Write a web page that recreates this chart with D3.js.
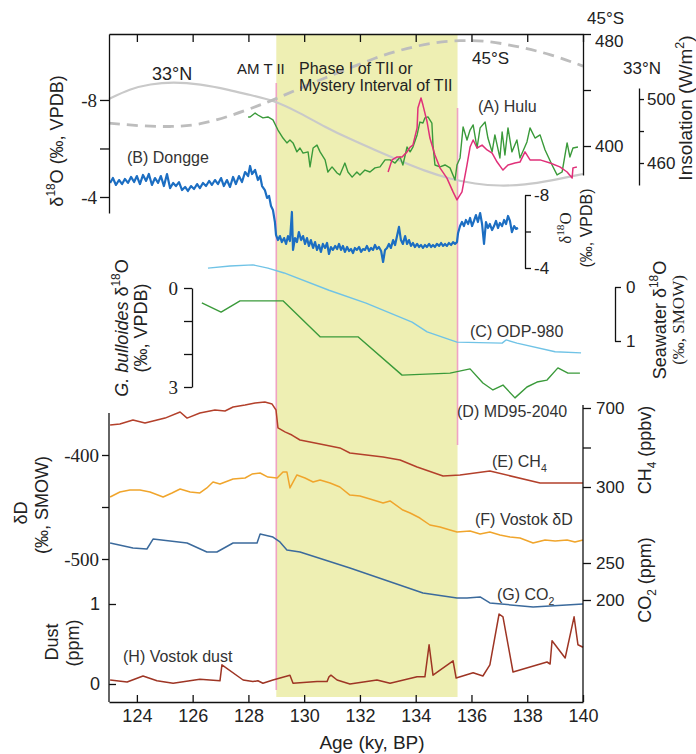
<!DOCTYPE html>
<html>
<head>
<meta charset="utf-8">
<script src="https://cdn.jsdelivr.net/npm/d3@7"></script>
<style>
  body { margin: 0; background: #fff; }
  svg { display: block; }
</style>
</head>
<body>
<svg></svg>
<script>
// ---- data (age in ky BP, value in the units of each record) ----
const ageTicks = [124, 126, 128, 130, 132, 134, 136, 138, 140];
const shadeAges = [129, 135.5];

// insolation, W/m2
const insol33N = [[123,500.0],[123.75,506.3],[124.47,509.4],[125.30,510.6],[126.26,509.4],[127.34,505.6],
  [128.06,502.5],[128.88,499.4],[129.85,491.3],[130.75,482.5],[131.64,475.0],[132.54,468.1],[133.44,461.3],
  [134.33,455.0],[135.23,450.0],[136.13,446.9],[137.02,445.6],[137.92,446.3],[138.82,448.8],[140,453.1]];
const insol45S = [[123,416.4],[124.11,414.3],[125.19,413.6],[126.26,415.0],[127.45,422.1],[128.42,429.3],
  [128.99,433.6],[129.85,441.4],[130.75,448.6],[131.64,455.7],[132.54,462.9],[133.44,468.6],[134.51,473.6],
  [135.59,475.7],[136.66,475.0],[137.74,470.7],[138.82,465.7],[140,457.1]];

// (A) Hulu d18O, permil VPDB
const hulu = [[127.99,-7.30],[128.06,-7.30],[128.24,-7.46],[128.34,-7.38],[128.52,-7.26],[128.70,-7.30],
  [128.88,-7.18],[129.06,-6.76],[129.24,-6.43],[129.38,-6.23],[129.49,-6.35],[129.60,-6.23],[129.74,-5.86],
  [129.85,-6.02],[129.96,-5.81],[130.14,-5.86],[130.21,-5.24],[130.32,-6.02],[130.46,-6.14],[130.57,-5.86],
  [130.75,-5.53],[130.85,-5.03],[131.00,-5.24],[131.18,-4.99],[131.28,-4.91],[131.46,-5.40],[131.57,-5.03],
  [131.72,-4.82],[131.89,-5.03],[132.00,-4.91],[132.18,-5.11],[132.36,-5.03],[132.54,-5.20],[132.72,-5.24],
  [132.90,-5.53],[133.08,-5.53],[133.26,-5.40],[133.44,-5.65],[133.54,-5.32],[133.69,-6.06],[133.80,-5.86],
  [133.90,-6.06],[134.05,-6.56],[134.15,-7.09],[134.26,-7.05],[134.33,-7.26],[134.44,-7.30],[134.58,-7.05],
  [134.62,-6.14],[134.69,-5.32],[134.87,-5.24],[135.05,-5.32],[135.23,-5.20],[135.41,-4.70],[135.48,-5.32],
  [135.59,-5.61],[135.70,-6.89],[135.84,-6.35],[135.95,-6.76],[136.06,-6.97],[136.20,-6.02],[136.31,-6.85],
  [136.49,-7.09],[136.59,-6.43],[136.74,-5.86],[136.84,-6.56],[137.02,-5.61],[137.10,-6.68],[137.20,-5.73],
  [137.31,-6.85],[137.45,-5.86],[137.63,-6.35],[137.74,-5.61],[137.99,-6.27],[138.10,-6.85],[138.28,-6.43],
  [138.46,-6.56],[138.64,-5.94],[138.89,-5.32],[139.07,-4.91],[139.25,-5.03],[139.43,-6.23],[139.53,-5.65],
  [139.64,-6.02],[139.82,-6.06]];
const hulu2 = [[133.01,-5.03],[133.15,-5.53],[133.33,-5.65],[133.51,-5.65],[133.69,-5.86],[133.80,-6.06],
  [133.90,-6.14],[134.05,-6.85],[134.08,-7.67],[134.19,-8.08],[134.26,-7.79],[134.41,-7.09],[134.51,-6.43],
  [134.69,-5.73],[134.87,-5.20],[135.12,-4.78],[135.34,-4.21],[135.48,-3.88],[135.66,-4.21],[135.84,-5.32],
  [135.95,-6.06],[136.06,-6.35],[136.20,-6.02],[136.38,-6.14],[136.56,-5.94],[136.74,-5.81],[136.92,-5.44],
  [137.13,-5.11],[137.31,-5.32],[137.56,-5.40],[137.74,-5.44],[137.92,-5.86],[138.10,-5.53],[138.46,-5.53],
  [138.82,-5.40],[139.17,-5.24],[139.43,-5.03],[139.61,-4.78],[139.64,-5.20],[139.78,-5.24]];

// (B) Dongge d18O, permil VPDB
const dongge = [[123.04,-8.66],[123.14,-8.93],[123.25,-8.55],[123.36,-8.82],[123.47,-8.60],[123.57,-8.88],
  [123.68,-8.66],[123.79,-8.99],[123.90,-8.71],[124.00,-9.04],[124.11,-8.60],[124.22,-9.10],[124.33,-8.77],
  [124.43,-9.15],[124.54,-8.55],[124.65,-8.93],[124.76,-8.66],[124.86,-9.04],[124.97,-8.49],[125.08,-9.15],
  [125.19,-8.38],[125.30,-8.66],[125.40,-8.49],[125.51,-8.71],[125.62,-8.27],[125.73,-8.44],[125.83,-8.22],
  [125.94,-8.49],[126.05,-8.33],[126.16,-8.60],[126.26,-8.38],[126.37,-8.66],[126.48,-8.49],[126.59,-8.77],
  [126.69,-8.55],[126.80,-8.82],[126.91,-8.60],[127.02,-8.93],[127.12,-8.49],[127.23,-8.82],[127.34,-8.44],
  [127.45,-8.99],[127.55,-8.60],[127.66,-9.04],[127.77,-8.71],[127.88,-9.26],[127.99,-9.04],[128.06,-9.59],
  [128.13,-9.15],[128.24,-9.37],[128.34,-8.82],[128.42,-9.04],[128.49,-8.49],[128.59,-8.27],[128.67,-7.84],
  [128.74,-7.95],[128.81,-7.40],[128.88,-7.18],[128.95,-6.52],[128.99,-5.81],[129.06,-5.53],[129.13,-5.75],
  [129.20,-5.42],[129.28,-5.64],[129.35,-5.32],[129.42,-5.75],[129.49,-5.48],[129.56,-7.07],[129.60,-4.99],
  [129.67,-5.64],[129.74,-5.42],[129.81,-5.97],[129.89,-5.53],[129.96,-5.75],[130.03,-5.32],[130.10,-5.64],
  [130.17,-5.21],[130.24,-5.53],[130.32,-5.10],[130.39,-5.42],[130.46,-4.99],[130.53,-5.26],[130.60,-4.88],
  [130.67,-5.32],[130.75,-5.10],[130.82,-5.37],[130.89,-4.77],[130.96,-5.15],[131.03,-4.99],[131.11,-5.21],
  [131.18,-5.04],[131.25,-5.32],[131.32,-4.99],[131.39,-5.21],[131.46,-4.88],[131.54,-5.15],[131.61,-4.93],
  [131.68,-5.04],[131.75,-4.82],[131.82,-5.10],[131.89,-4.99],[131.97,-5.15],[132.04,-4.88],[132.11,-5.04],
  [132.18,-4.99],[132.25,-5.21],[132.33,-4.93],[132.40,-5.10],[132.47,-4.99],[132.54,-5.26],[132.61,-5.04],
  [132.68,-5.15],[132.76,-4.93],[132.83,-4.33],[132.90,-4.99],[132.97,-5.10],[133.04,-5.32],[133.11,-5.10],
  [133.19,-5.53],[133.26,-5.26],[133.33,-5.75],[133.40,-6.25],[133.47,-5.53],[133.54,-5.32],[133.62,-5.75],
  [133.69,-5.32],[133.76,-5.53],[133.83,-5.21],[133.90,-5.37],[133.97,-5.15],[134.05,-5.32],[134.12,-5.15],
  [134.19,-5.26],[134.26,-5.10],[134.33,-5.26],[134.40,-5.15],[134.48,-5.32],[134.55,-5.15],[134.62,-5.26],
  [134.69,-5.15],[134.76,-5.32],[134.84,-5.21],[134.91,-5.37],[134.98,-5.21],[135.05,-5.32],[135.12,-5.21],
  [135.19,-5.37],[135.27,-5.26],[135.34,-5.42],[135.41,-5.32],[135.48,-5.42],[135.52,-5.92],[135.59,-6.30],
  [135.66,-6.52],[135.73,-6.30],[135.80,-6.63],[135.88,-6.41],[135.95,-6.74],[136.02,-6.30],[136.09,-6.58],
  [136.16,-6.90],[136.23,-6.52],[136.31,-7.01],[136.38,-6.41],[136.45,-5.32],[136.52,-6.52],[136.59,-6.19],
  [136.66,-6.41],[136.74,-6.08],[136.81,-6.30],[136.88,-6.58],[136.95,-6.19],[137.02,-6.47],[137.10,-6.30],
  [137.17,-6.63],[137.24,-6.41],[137.31,-6.85],[137.38,-6.58],[137.45,-5.97],[137.53,-6.30],[137.60,-6.14],
  [137.67,-6.19]];

// (C) ODP-980 seawater d18O (permil SMOW), (D) MD95-2040 G. bulloides d18O (permil VPDB)
const odp980 = [[126.55,-0.35],[127.34,-0.39],[128.16,-0.41],[128.70,-0.35],[129.28,-0.26],[130.89,0.06],
  [132.22,0.30],[133.87,0.65],[134.41,0.83],[135.48,1.02],[137.10,1.04],[137.24,0.98],[137.63,1.04],
  [139.00,1.20],[139.93,1.22]];
const md952040 = [[126.33,0.45],[127.02,0.73],[127.70,0.39],[129.24,0.39],[130.57,1.48],[131.93,1.48],
  [133.51,2.64],[135.23,2.58],[135.95,2.45],[136.41,2.88],[136.77,3.09],[137.13,2.94],[137.56,3.33],
  [137.99,3.00],[138.35,2.85],[138.71,2.79],[139.10,2.42],[139.46,2.58],[139.89,2.58]];

// (E) CH4 ppbv
const ch4 = [[123.04,614],[123.39,619],[123.86,639],[124.29,624],[124.58,634],[125.01,649],[125.55,680],
  [125.80,649],[126.26,675],[126.80,690],[127.16,685],[127.45,705],[127.88,715],[128.24,725],[128.59,730],
  [128.85,720],[128.99,690],[129.06,599],[129.31,579],[129.56,563],[129.85,538],[130.21,528],[130.57,518],
  [131.28,498],[131.64,472],[132.83,452],[133.44,437],[134.05,401],[134.98,356],[135.59,361],[136.66,381],
  [138.46,320],[140,320]];

// (F) Vostok dD permil SMOW
const vostokDD = [[123.04,-440.4],[123.39,-435.6],[123.75,-433.7],[124.11,-433.7],[124.47,-435.6],
  [124.94,-440.4],[125.26,-436.5],[125.55,-432.7],[125.91,-435.6],[126.26,-436.5],[126.51,-431.7],
  [126.73,-426.0],[126.98,-427.9],[127.45,-423.1],[127.88,-422.1],[128.13,-418.3],[128.42,-417.3],
  [128.70,-421.2],[129.03,-422.1],[129.24,-416.3],[129.38,-416.3],[129.49,-431.7],[129.74,-419.2],
  [130.03,-422.1],[130.32,-426.0],[130.57,-424.0],[130.93,-426.9],[131.28,-430.8],[131.64,-438.5],
  [132.00,-439.4],[132.36,-442.3],[132.83,-446.2],[133.08,-444.2],[133.54,-452.9],[133.80,-455.8],
  [134.15,-460.6],[134.51,-467.3],[134.87,-469.2],[135.23,-472.1],[135.48,-474.0],[135.95,-473.1],
  [136.31,-475.9],[136.66,-474.0],[137.02,-476.9],[137.38,-478.8],[137.74,-479.8],[138.21,-484.6],
  [138.64,-481.7],[139.00,-482.7],[139.43,-481.7],[139.71,-483.7],[140,-481.7]];

// (G) CO2 ppm
const co2 = [[123.04,277.0],[123.86,270.3],[124.36,268.9],[124.58,282.4],[125.80,277.0],[126.51,264.9],
  [126.87,264.9],[127.45,277.0],[128.31,277.0],[128.42,289.2],[128.88,285.1],[129.13,278.4],[129.38,267.6],
  [129.85,264.9],[131.64,243.2],[134.26,209.5],[135.48,202.7],[135.84,202.7],[136.31,204.1],[136.66,196.0],
  [138.21,190.5],[140,194.6]];

// (H) Vostok dust ppm
const vostokDust = [[123.04,0.05],[123.65,0.025],[124.22,0.10],[124.72,0.04],[125.30,0.01],[126.26,0.06],
  [126.98,0.04],[127.05,0.24],[127.81,0.05],[128.16,0.03],[128.34,0.04],[128.52,0.01],[128.88,0.05],
  [129.49,0.11],[129.60,0.01],[130.46,0.03],[130.82,0.03],[130.89,0.09],[130.96,0.11],[131.18,0.05],
  [131.64,0.00],[132.61,0.05],[133.08,0.01],[134.05,0.09],[134.33,0.09],[134.48,0.49],[134.62,0.11],
  [135.34,0.29],[135.45,0.075],[136.06,0.14],[136.41,0.10],[136.66,0.24],[136.99,0.875],[137.13,0.84],
  [137.49,0.15],[138.71,0.275],[138.82,0.25],[138.89,0.54],[139.36,0.325],[139.68,0.84],[139.82,0.49],
  [140,0.46]];

// ---- setup ----
const width = 696, height = 754;
const sans = "'Liberation Sans', Arial, sans-serif";
const serif = "'Liberation Serif', 'Times New Roman', serif";
const ink = "#222";

const svg = d3.select("svg").attr("width", width).attr("height", height);

const x = d3.scaleLinear().domain([123, 140]).range([109, 583]);

// y scales, one per record
const yHulu = d3.scaleLinear().domain([-10.72, -3.34]).range([34, 213]);
const y45S = d3.scaleLinear().domain([480, 379.3]).range([34, 175]);
const y33N = d3.scaleLinear().domain([506.9, 446.25]).range([88, 185]);
const yDongge = d3.scaleLinear().domain([-8, -4]).range([195, 268]);
const yBull = d3.scaleLinear().domain([0, 3]).range([288, 387]);
const ySea = d3.scaleLinear().domain([0, 1]).range([287, 341]);
const yCH4 = d3.scaleLinear().domain([300, 700]).range([487, 408]);
const yDD = d3.scaleLinear().domain([-400, -500]).range([455, 559]);
const yCO2 = d3.scaleLinear().domain([200, 250]).range([600, 563]);
const yDust = d3.scaleLinear().domain([0, 1]).range([684, 604]);

//shaded interval (Phase I of TII)
svg.append("rect")
  .attr("x", x(shadeAges[0]))
  .attr("y", 34)
  .attr("width", x(shadeAges[1]) - x(shadeAges[0]))
  .attr("height", 663)
  .attr("fill", "#eeefb3");

//pink boundary lines
svg.append("line")
  .attr("x1", x(shadeAges[0])).attr("x2", x(shadeAges[0]))
  .attr("y1", 83).attr("y2", 690)
  .attr("stroke", "#f0a3c4").attr("stroke-width", 1.6);
svg.append("line")
  .attr("x1", x(shadeAges[1])).attr("x2", x(shadeAges[1]))
  .attr("y1", 108).attr("y2", 445)
  .attr("stroke", "#f0a3c4").attr("stroke-width", 1.6);

// line helper
function drawLine(data, y, color, w, curve, dash) {
  const p = svg.append("path")
    .datum(data)
    .attr("fill", "none")
    .attr("stroke", color)
    .attr("stroke-width", w)
    .attr("stroke-linejoin", "round")
    .attr("d", d3.line().x(d => x(d[0])).y(d => y(d[1])).curve(curve || d3.curveLinear));
  if (dash) p.attr("stroke-dasharray", dash);
  return p;
}

//insolation curves
drawLine(insol33N, y33N, "#c9c9c9", 2.2, d3.curveBasis);
drawLine(insol45S, y45S, "#bdbdbd", 2.8, d3.curveBasis, "11,7");

//records
drawLine(hulu, yHulu, "#3a9a3a", 1.4);
drawLine(hulu2, yHulu, "#e03079", 1.5);
drawLine(dongge, yDongge, "#1c6ec2", 2.2);
drawLine(odp980, ySea, "#70c3e6", 1.4);
drawLine(md952040, yBull, "#3a9a3a", 1.4);
drawLine(ch4, yCH4, "#b3402b", 1.5);
drawLine(vostokDD, yDD, "#f0a52c", 1.5);
drawLine(co2, yCO2, "#3b6a9c", 1.5);
drawLine(vostokDust, yDust, "#9e3524", 1.5);

// ---- axes ----
function styleAxis(g, family, size) {
  g.attr("font-family", family).attr("font-size", size);
  g.selectAll("text").attr("fill", ink);
  g.selectAll("line,path").attr("stroke", "#111").attr("stroke-width", 1.3);
  return g;
}
const only = list => d => list.includes(d) ? String(d) : "";

//top border with inward ticks
styleAxis(svg.append("g").attr("transform", "translate(0,34)")
  .call(d3.axisTop(x).tickValues(ageTicks).tickSizeInner(-8).tickSizeOuter(0).tickFormat("")), sans, 17);

//bottom axis
styleAxis(svg.append("g").attr("transform", "translate(0,702)")
  .call(d3.axisBottom(x).tickValues(ageTicks).tickSizeInner(-7).tickSizeOuter(0).tickPadding(7)), sans, 18);

//Hulu left axis
styleAxis(svg.append("g").attr("transform", `translate(${x(123)},0)`)
  .call(d3.axisLeft(yHulu).tickValues([-8, -6, -4]).tickSizeInner(9).tickSizeOuter(0)
    .tickPadding(3).tickFormat(only([-8, -4]))), serif, 19);

//insolation 45S axis
const ax45 = styleAxis(svg.append("g").attr("transform", `translate(${x(140)},0)`)
  .call(d3.axisRight(y45S).tickValues([480, 440, 400]).tickSizeInner(8).tickSizeOuter(0)
    .tickPadding(4).tickFormat(only([480, 400]))), sans, 17);
//the top label sits just under its tick, clear of the "45°S" title
ax45.selectAll(".tick text").filter(d => d === 480).attr("dy", "0.72em");

//insolation 33N axis
styleAxis(svg.append("g").attr("transform", "translate(639,0)")
  .call(d3.axisRight(y33N).tickValues([500, 480, 460]).tickSizeInner(5).tickSizeOuter(0)
    .tickPadding(3).tickFormat(only([500, 460]))), sans, 17);

//Dongge bracket
styleAxis(svg.append("g").attr("transform", "translate(525,0)")
  .call(d3.axisRight(yDongge).tickValues([-8, -6, -4]).tickSizeInner(6).tickSizeOuter(0)
    .tickPadding(3).tickFormat(only([-8, -4]))), sans, 17);

//G. bulloides bracket
styleAxis(svg.append("g").attr("transform", "translate(192,0)")
  .call(d3.axisLeft(yBull).tickValues([0, 1, 2, 3]).tickSizeInner(8).tickSizeOuter(0)
    .tickPadding(6).tickFormat(only([0, 3]))), serif, 19);

//seawater bracket
styleAxis(svg.append("g").attr("transform", "translate(615,0)")
  .call(d3.axisRight(ySea).tickValues([0, 1]).tickSizeInner(6).tickSizeOuter(0)
    .tickPadding(5).tickFormat(only([0, 1]))), sans, 17);

//bottom panel frame sides
svg.append("line").attr("x1", x(123)).attr("x2", x(123)).attr("y1", 413).attr("y2", 702)
  .attr("stroke", "#111").attr("stroke-width", 1.3);
svg.append("line").attr("x1", x(140)).attr("x2", x(140)).attr("y1", 405).attr("y2", 702)
  .attr("stroke", "#111").attr("stroke-width", 1.3);

function noDomain(g) { g.select(".domain").remove(); return g; }

//dD axis
noDomain(styleAxis(svg.append("g").attr("transform", `translate(${x(123)},0)`)
  .call(d3.axisLeft(yDD).tickValues([-400, -450, -500]).tickSizeInner(7).tickSizeOuter(0)
    .tickPadding(3).tickFormat(only([-400, -500]))), serif, 19));

//dust axis (inward ticks)
noDomain(styleAxis(svg.append("g").attr("transform", `translate(${x(123)},0)`)
  .call(d3.axisLeft(yDust).tickValues([0, 1]).tickSizeInner(-7).tickSizeOuter(0)
    .tickPadding(9).tickFormat(only([0, 1]))), sans, 18));

//CH4 axis
noDomain(styleAxis(svg.append("g").attr("transform", `translate(${x(140)},0)`)
  .call(d3.axisRight(yCH4).tickValues([700, 500, 300]).tickSizeInner(8).tickSizeOuter(0)
    .tickPadding(5).tickFormat(only([700, 300]))), sans, 17));

//CO2 axis
noDomain(styleAxis(svg.append("g").attr("transform", `translate(${x(140)},0)`)
  .call(d3.axisRight(yCO2).tickValues([250, 200]).tickSizeInner(8).tickSizeOuter(0)
    .tickPadding(5)), sans, 17));

// ---- text ----
// parts: plain strings, or [text, "sup" | "sub" | "it"]
function addParts(t, parts, size) {
  let cur = 0;
  parts.forEach(p => {
    const s = typeof p === "string" ? p : p[0];
    const kind = typeof p === "string" ? "" : p[1];
    const ts = t.append("tspan").text(s);
    let target = 0;
    if (kind === "sup") { target = -0.42 * size; ts.attr("font-size", size * 0.66); }
    if (kind === "sub") { target = 0.3 * size; ts.attr("font-size", size * 0.66); }
    if (kind === "it") ts.attr("font-style", "italic");
    if (target !== cur) ts.attr("dy", target - cur);
    cur = target;
  });
}
function label(px, py, parts, size, opts = {}) {
  const t = svg.append("text")
    .attr("x", px).attr("y", py)
    .attr("font-family", opts.family || sans)
    .attr("font-size", size)
    .attr("fill", opts.color || ink)
    .attr("text-anchor", opts.anchor || "start");
  addParts(t, parts, size);
  return t;
}
function vlabel(px, py, parts, size, opts = {}) {
  const t = svg.append("text")
    .attr("transform", `translate(${px},${py}) rotate(-90)`)
    .attr("font-family", opts.family || sans)
    .attr("font-size", size)
    .attr("fill", ink)
    .attr("text-anchor", "middle");
  addParts(t, parts, size);
  return t;
}

const note = "#333";
label(152, 80, ["33°N"], 18);
label(237, 74, ["AM T II"], 15);
label(299, 74, ["Phase I of TII or"], 16);
label(299, 91, ["Mystery Interval of TII"], 16);
label(472, 64, ["45°S"], 17);
label(478, 112, ["(A) Hulu"], 16, { color: note });
label(127, 163, ["(B) Dongge"], 16, { color: note });
label(587, 24, ["45°S"], 17);
label(623, 74, ["33°N"], 17);
label(470, 337, ["(C) ODP-980"], 16, { color: note });
label(457, 417, ["(D) MD95-2040"], 16, { color: note });
label(492, 467, ["(E) CH", ["4", "sub"]], 16, { color: note });
label(475, 525, ["(F) Vostok δD"], 16, { color: note });
label(497, 600, ["(G) CO", ["2", "sub"]], 16, { color: note });
label(123, 662, ["(H) Vostok dust"], 16, { color: note });
label(372, 749, ["Age (ky, BP)"], 19, { anchor: "middle" });

//axis titles
vlabel(63, 141, ["δ", ["18", "sup"], "O (‰, VPDB)"], 18);
vlabel(692, 108, ["Insolation (W/m", ["2", "sup"], ")"], 19);
vlabel(571, 228, ["δ", ["18", "sup"], "O"], 17, { family: serif });
vlabel(592, 228, ["(‰, VPDB)"], 16);
vlabel(128, 328, [["G. bulloides", "it"], " δ", ["18", "sup"], "O"], 18);
vlabel(147, 328, ["(‰, VPDB)"], 18);
vlabel(666, 320, ["Seawater δ", ["18", "sup"], "O"], 18);
vlabel(684, 320, ["(‰, SMOW)"], 17, { family: serif });
vlabel(651, 450, ["CH", ["4", "sub"], " (ppbv)"], 18);
vlabel(651, 580, ["CO", ["2", "sub"], " (ppm)"], 18);
vlabel(27, 513, ["δD"], 18);
vlabel(48, 505, ["(‰, SMOW)"], 18);
vlabel(58, 642, ["Dust"], 18);
vlabel(79, 643, ["(ppm)"], 18);
</script>
</body>
</html>
